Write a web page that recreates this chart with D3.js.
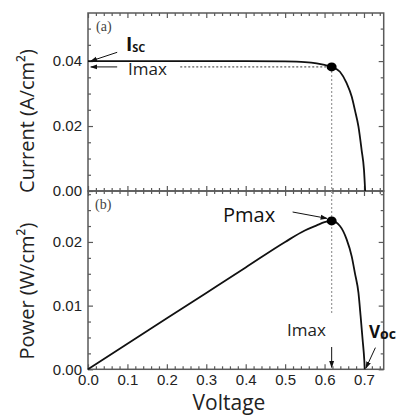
<!DOCTYPE html>
<html>
<head>
<meta charset="utf-8">
<script src="https://cdn.jsdelivr.net/npm/d3@7"></script>
<style>
  html, body { margin: 0; padding: 0; background: #fff; }
  svg { display: block; }
</style>
</head>
<body>
<svg id="chart" width="403" height="416"></svg>
<script>
// ---------- data ----------
const ivVoltage = [0, 0.1, 0.2, 0.3, 0.4, 0.5, 0.55, 0.58, 0.60, 0.618, 0.639, 0.656, 0.669, 0.677, 0.686, 0.694, 0.700, 0.703];
const ivCurrent = [0.0400, 0.0400, 0.0400, 0.0400, 0.0400, 0.0399, 0.0397, 0.0393, 0.0388, 0.0382, 0.0367, 0.0332, 0.0290, 0.0249, 0.0198, 0.0126, 0.0065, 0.0];
const pvVoltage = [0, 0.1, 0.2, 0.3, 0.4, 0.5, 0.55, 0.58, 0.60, 0.618, 0.639, 0.656, 0.669, 0.677, 0.686, 0.6915, 0.6966, 0.7007, 0.702];
const pvPower   = [0, 0.0040, 0.0080, 0.0120, 0.0160, 0.0200, 0.0218, 0.0226, 0.0231, 0.0233, 0.0225, 0.0204, 0.0177, 0.0151, 0.0120, 0.0083, 0.0046, 0.0015, 0.0];
const maxPoint = { v: 0.618, i: 0.0382, p: 0.0233 };
const xTicks = [0, 0.1, 0.2, 0.3, 0.4, 0.5, 0.6, 0.7];
const xTickLabels = ["0.0", "0.1", "0.2", "0.3", "0.4", "0.5", "0.6", "0.7"];
const iTicks = [0, 0.02, 0.04];
const iTickLabels = ["0.00", "0.02", "0.04"];
const pTicks = [0, 0.01, 0.02];
const pTickLabels = ["0.00", "0.01", "0.02"];

// ---------- layout ----------
const L = 88, R = 383.7, T = 13, M = 191, B = 369.3;
const svg = d3.select("#chart");
const x = d3.scaleLinear().domain([0, 0.75]).range([L, R]);
const yI = d3.scaleLinear().domain([0, 0.0548]).range([M, T]);
const yP = d3.scaleLinear().domain([0, 0.028]).range([B, M]);

const frameColor = "#5a5a5a";
const tickFont = "'Liberation Sans', Arial, sans-serif";
const labelFont = "'Open Sans', 'Noto Sans', sans-serif";

const xMinor = d3.range(0, 0.7501, 0.02).filter(v => !xTicks.some(t => Math.abs(t - v) < 1e-6));
const iMinor = d3.range(0, 0.0548, 0.005).filter(v => !iTicks.some(t => Math.abs(t - v) < 1e-6));
const pMinor = d3.range(0, 0.028, 0.0025).filter(v => !pTicks.some(t => Math.abs(t - v) < 1e-6));

function styleAxis(g) {
  g.select(".domain").remove();
  g.selectAll(".tick line").attr("stroke", frameColor).attr("stroke-width", 1.2);
  g.selectAll(".tick text").attr("fill", "#222").attr("font-family", tickFont).attr("font-size", 15);
}
function addAxis(axis, tx, ty) {
  svg.append("g").attr("transform", `translate(${tx},${ty})`).call(axis).call(styleAxis);
}

// top panel axes
addAxis(d3.axisLeft(yI).tickValues(iTicks).tickSize(-5).tickPadding(6).tickFormat((d, i) => iTickLabels[i]), L, 0);
addAxis(d3.axisLeft(yI).tickValues(iMinor).tickSize(-3).tickFormat(""), L, 0);
addAxis(d3.axisRight(yI).tickValues(iTicks).tickSize(-5).tickFormat(""), R, 0);
addAxis(d3.axisRight(yI).tickValues(iMinor).tickSize(-3).tickFormat(""), R, 0);
addAxis(d3.axisTop(x).tickValues(xTicks).tickSize(-5).tickFormat(""), 0, T);
addAxis(d3.axisTop(x).tickValues(xMinor).tickSize(-3).tickFormat(""), 0, T);
// middle divider: crossing ticks
addAxis(d3.axisBottom(x).tickValues(xTicks).tickSize(-5).tickFormat(""), 0, M);
addAxis(d3.axisBottom(x).tickValues(xMinor).tickSize(-3).tickFormat(""), 0, M);
addAxis(d3.axisTop(x).tickValues(xTicks).tickSize(-5).tickFormat(""), 0, M);
addAxis(d3.axisTop(x).tickValues(xMinor).tickSize(-3).tickFormat(""), 0, M);
// bottom panel axes
addAxis(d3.axisLeft(yP).tickValues(pTicks).tickSize(-5).tickPadding(6).tickFormat((d, i) => pTickLabels[i]), L, 0);
addAxis(d3.axisLeft(yP).tickValues(pMinor).tickSize(-3).tickFormat(""), L, 0);
addAxis(d3.axisRight(yP).tickValues(pTicks).tickSize(-5).tickFormat(""), R, 0);
addAxis(d3.axisRight(yP).tickValues(pMinor).tickSize(-3).tickFormat(""), R, 0);
addAxis(d3.axisBottom(x).tickValues(xTicks).tickSize(-5).tickPadding(5).tickFormat((d, i) => xTickLabels[i]), 0, B);
addAxis(d3.axisBottom(x).tickValues(xMinor).tickSize(-3).tickFormat(""), 0, B);

// frames
svg.append("rect").attr("x", L).attr("y", T).attr("width", R - L).attr("height", M - T)
  .attr("fill", "none").attr("stroke", frameColor).attr("stroke-width", 1.5);
svg.append("rect").attr("x", L).attr("y", M).attr("width", R - L).attr("height", B - M)
  .attr("fill", "none").attr("stroke", frameColor).attr("stroke-width", 1.5);

// arrow marker
svg.append("defs").append("marker").attr("id", "ah")
  .attr("viewBox", "0 0 10 10").attr("refX", 9).attr("refY", 5)
  .attr("markerWidth", 7).attr("markerHeight", 7).attr("markerUnits", "userSpaceOnUse")
  .attr("orient", "auto")
  .append("path").attr("d", "M0,1.5 L10,5 L0,8.5 Z").attr("fill", "#111");

// guide lines (dotted)
svg.append("line")
  .attr("x1", x(0.234)).attr("x2", x(maxPoint.v))
  .attr("y1", yI(maxPoint.i)).attr("y2", yI(maxPoint.i))
  .attr("stroke", "#333").attr("stroke-width", 1).attr("stroke-dasharray", "2,2");
svg.append("line")
  .attr("x1", x(maxPoint.v)).attr("x2", x(maxPoint.v))
  .attr("y1", yI(maxPoint.i)).attr("y2", yP(0.0088))
  .attr("stroke", "#999").attr("stroke-width", 1.2).attr("stroke-dasharray", "2,2");

// curves
const ivData = ivVoltage.map((v, i) => [v, ivCurrent[i]]);
const pvData = pvVoltage.map((v, i) => [v, pvPower[i]]);
svg.append("path").datum(ivData)
  .attr("d", d3.line().x(d => x(d[0])).y(d => yI(d[1])).curve(d3.curveMonotoneX))
  .attr("fill", "none").attr("stroke", "#111").attr("stroke-width", 1.8);
svg.append("path").datum(pvData)
  .attr("d", d3.line().x(d => x(d[0])).y(d => yP(d[1])).curve(d3.curveMonotoneX))
  .attr("fill", "none").attr("stroke", "#111").attr("stroke-width", 1.8);

// max points
svg.append("ellipse").attr("cx", x(maxPoint.v)).attr("cy", yI(maxPoint.i)).attr("rx", 5).attr("ry", 4.5).attr("fill", "#000");
svg.append("ellipse").attr("cx", x(maxPoint.v)).attr("cy", yP(maxPoint.p)).attr("rx", 5).attr("ry", 4.5).attr("fill", "#000");

// annotation arrows (data coordinates)
function arrow(x1, y1, x2, y2) {
  svg.append("line").attr("x1", x1).attr("y1", y1).attr("x2", x2).attr("y2", y2)
    .attr("stroke", "#111").attr("stroke-width", 1).attr("marker-end", "url(#ah)");
}
arrow(x(0.074), yI(0.0427), x(0.007), yI(0.0400));
arrow(x(0.074), yI(maxPoint.i), x(0.007), yI(maxPoint.i));
arrow(x(0.519), yP(0.0247), x(0.606), yP(0.0237));
arrow(x(maxPoint.v), yP(0.0035), x(maxPoint.v), yP(0.0003));
arrow(x(0.729), yP(0.0034), x(0.705), yP(0.0002));

// panel tags
svg.append("text").attr("x", 96).attr("y", 31).text("(a)")
  .attr("font-family", "'Liberation Serif', 'DejaVu Serif', serif").attr("font-size", 14).attr("fill", "#444");
svg.append("text").attr("x", 95).attr("y", 209).text("(b)")
  .attr("font-family", "'Liberation Serif', 'DejaVu Serif', serif").attr("font-size", 14).attr("fill", "#444");

// annotation labels
const isc = svg.append("text").attr("x", 126).attr("y", 51).attr("font-family", labelFont).attr("fill", "#111");
isc.append("tspan").text("I").attr("font-size", 19).attr("font-weight", "bold");
isc.append("tspan").text("SC").attr("font-size", 11).attr("font-weight", "bold").attr("dy", 1);

svg.append("text").attr("x", 128).attr("y", 75).text("Imax")
  .attr("font-family", labelFont).attr("font-size", 17).attr("fill", "#222");
svg.append("text").attr("x", 287).attr("y", 336).text("Imax")
  .attr("font-family", labelFont).attr("font-size", 17).attr("fill", "#222");
svg.append("text").attr("x", 223).attr("y", 222).text("Pmax")
  .attr("font-family", labelFont).attr("font-size", 20).attr("fill", "#111");
const voc = svg.append("text").attr("x", 369).attr("y", 338).attr("font-family", labelFont).attr("fill", "#111");
voc.append("tspan").text("V").attr("font-size", 17).attr("font-weight", "bold");
voc.append("tspan").text("oc").attr("font-size", 14).attr("font-weight", "bold").attr("dy", 1);

// axis titles
svg.append("text").attr("transform", "translate(34,121) rotate(-90)").attr("text-anchor", "middle")
  .text("Current (A/cm²)").attr("font-family", labelFont).attr("font-size", 20).attr("fill", "#222");
svg.append("text").attr("transform", "translate(34,291) rotate(-90)").attr("text-anchor", "middle")
  .text("Power (W/cm²)").attr("font-family", labelFont).attr("font-size", 20).attr("fill", "#222");
svg.append("text").attr("x", 229).attr("y", 410).attr("text-anchor", "middle")
  .text("Voltage").attr("font-family", labelFont).attr("font-size", 21).attr("fill", "#222");
</script>
</body>
</html>
